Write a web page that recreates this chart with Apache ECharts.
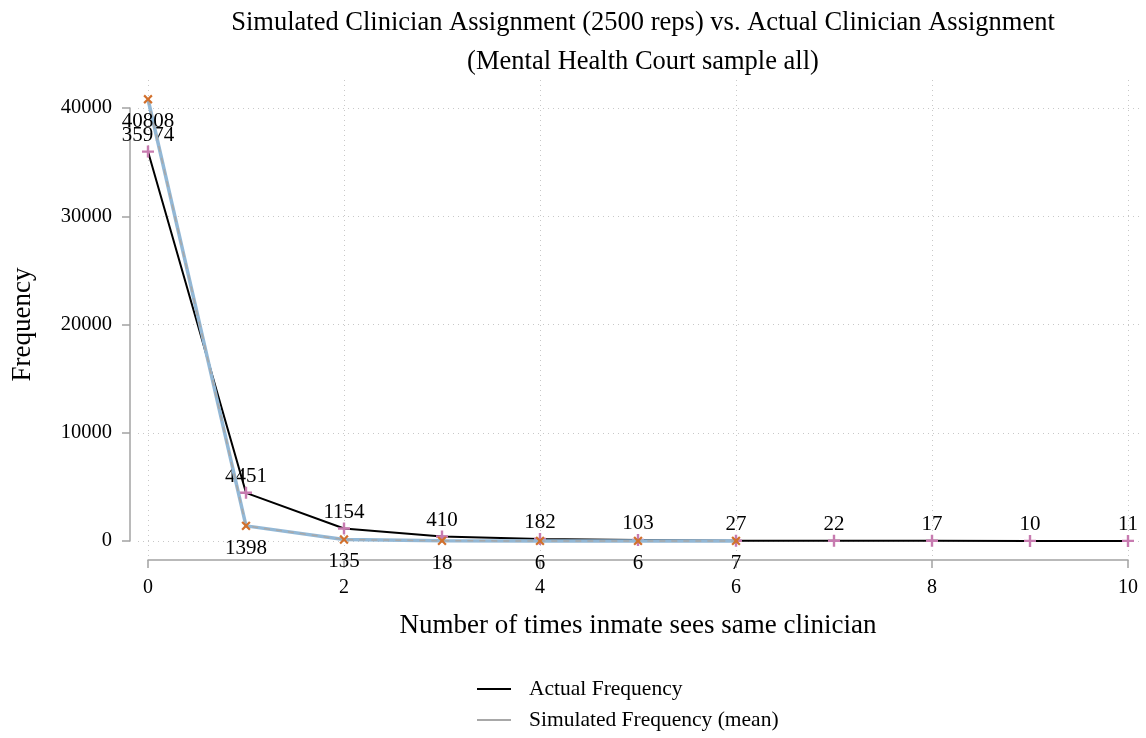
<!DOCTYPE html>
<html>
<head>
<meta charset="utf-8">
<script src="https://cdn.jsdelivr.net/npm/echarts@6/dist/echarts.min.js"></script>
<style>
  html, body { margin: 0; padding: 0; background: #ffffff; }
  #chart { width: 1146px; height: 738px; }
</style>
</head>
<body>
<div id="chart"></div>
<script>
// Number of times an inmate sees the same clinician
const visits = [0, 1, 2, 3, 4, 5, 6, 7, 8, 9, 10];
// Observed counts
const actualFreq = [35974, 4451, 1154, 410, 182, 103, 27, 22, 17, 10, 11];
// Mean counts over 2500 simulated assignments
const simVisits = [0, 1, 2, 3, 4, 5, 6];
const simFreq = [40808, 1398, 135, 18, 6, 6, 7];
// Axis ticks
const xTicks = [0, 2, 4, 6, 8, 10];
const yTicks = [0, 10000, 20000, 30000, 40000];

const SERIF = "'Liberation Serif', 'DejaVu Serif', serif";
const AXIS_GRAY = '#a3a3a3';
const GRID_DOT = '#c8c8c8';

const pairs = (xs, ys) => xs.map((x, i) => [x, ys[i]]);
const plusPath = 'path://M4,0H6V4H10V6H6V10H4V6H0V4H4Z';
const plain = v => String(v);

// Plot area: x 0..10 spans 148..1128 px, y 0..40000 spans 541..108 px
const PX_PER_X = 98;
const PX_PER_Y = 433 / 40000;

const chart = echarts.init(document.getElementById('chart'), null, { renderer: 'canvas' });

chart.setOption({
  backgroundColor: '#ffffff',
  animation: false,
  title: {
    text: 'Simulated Clinician Assignment (2500 reps) vs. Actual Clinician Assignment\n(Mental Health Court sample all)',
    left: 638,
    top: -1,
    textAlign: 'center',
    textStyle: {
      fontFamily: SERIF, fontSize: 26.5, fontWeight: 'normal', color: '#000', lineHeight: 39
    }
  },
  legend: {
    orient: 'vertical',
    left: 477,
    top: 678,
    padding: 0,
    itemWidth: 34,
    itemHeight: 2,
    itemGap: 9,
    icon: 'rect',
    textStyle: { fontFamily: SERIF, fontSize: 21.5, color: '#000', padding: [0, 0, 0, 13] },
    data: [
      { name: 'Actual Frequency', itemStyle: { color: '#000000' } },
      { name: 'Simulated Frequency (mean)', itemStyle: { color: '#a8a8a8' } }
    ]
  },
  grid: [
    { left: 148, right: 18, top: 108, bottom: 197, containLabel: false },
    // wider backdrop grid carrying the dotted reference lines
    { left: 138, right: 6, top: 80, bottom: 181, containLabel: false }
  ],
  xAxis: [
    {
      type: 'value', gridIndex: 0, min: 0, max: 10, interval: 2,
      offset: 19,
      name: 'Number of times inmate sees same clinician',
      nameLocation: 'middle', nameGap: 52,
      nameTextStyle: { fontFamily: SERIF, fontSize: 27, color: '#000' },
      axisLine: { show: true, onZero: false, lineStyle: { color: AXIS_GRAY, width: 1.5 } },
      axisTick: { show: true, length: 8, lineStyle: { color: AXIS_GRAY, width: 1.5 }, customValues: xTicks },
      axisLabel: { fontFamily: SERIF, fontSize: 20, color: '#000', margin: 18, customValues: xTicks, formatter: plain },
      splitLine: { show: false }
    },
    {
      type: 'value', gridIndex: 1,
      min: -10 / PX_PER_X, max: (1140 - 148) / PX_PER_X,
      axisLine: { show: false, onZero: false },
      axisTick: { show: false, customValues: xTicks },
      axisLabel: { show: false, customValues: xTicks },
      splitLine: { show: true, lineStyle: { color: GRID_DOT, width: 1, type: [1, 4] } }
    }
  ],
  yAxis: [
    {
      type: 'value', gridIndex: 0, min: 0, max: 40000, interval: 10000,
      offset: 18,
      name: 'Frequency',
      nameLocation: 'middle', nameGap: 94,
      nameTextStyle: { fontFamily: SERIF, fontSize: 27, color: '#000' },
      axisLine: { show: true, onZero: false, lineStyle: { color: AXIS_GRAY, width: 1.5 } },
      axisTick: { show: true, length: 8, lineStyle: { color: AXIS_GRAY, width: 1.5 }, customValues: yTicks },
      axisLabel: { fontFamily: SERIF, fontSize: 20.5, color: '#000', margin: 18, customValues: yTicks, formatter: plain },
      splitLine: { show: false }
    },
    {
      type: 'value', gridIndex: 1,
      min: -(557 - 541) / PX_PER_Y, max: (541 - 80) / PX_PER_Y,
      axisLine: { show: false, onZero: false },
      axisTick: { show: false, customValues: yTicks },
      axisLabel: { show: false, customValues: yTicks },
      splitLine: { show: true, lineStyle: { color: GRID_DOT, width: 1, type: [1, 4] } }
    }
  ],
  series: [
    {
      name: 'Actual Frequency',
      type: 'line',
      xAxisIndex: 0, yAxisIndex: 0,
      data: pairs(visits, actualFreq),
      clip: false,
      z: 3,
      lineStyle: { color: '#000000', width: 2 },
      itemStyle: { color: '#c77bb0' },
      symbol: plusPath,
      symbolSize: 12,
      label: {
        show: true, position: 'top', distance: 0,
        fontFamily: SERIF, fontSize: 21, color: '#000'
      }
    },
    {
      name: 'sim-band',
      type: 'line',
      xAxisIndex: 0, yAxisIndex: 0,
      data: pairs(simVisits, simFreq),
      clip: false,
      z: 4,
      lineStyle: { color: '#93b8d6', width: 3.5 },
      showSymbol: false,
      symbol: 'none',
      silent: true
    },
    {
      name: 'Simulated Frequency (mean)',
      type: 'line',
      xAxisIndex: 0, yAxisIndex: 0,
      data: pairs(simVisits, simFreq),
      clip: false,
      z: 5,
      lineStyle: { color: '#a8a8a8', width: 1.5, type: [6, 6] },
      itemStyle: { color: '#d2702c' },
      symbol: plusPath,
      symbolRotate: 45,
      symbolSize: 11,
      label: {
        show: true, position: 'bottom', distance: 4,
        fontFamily: SERIF, fontSize: 21, color: '#000'
      }
    }
  ]
});
</script>
</body>
</html>
